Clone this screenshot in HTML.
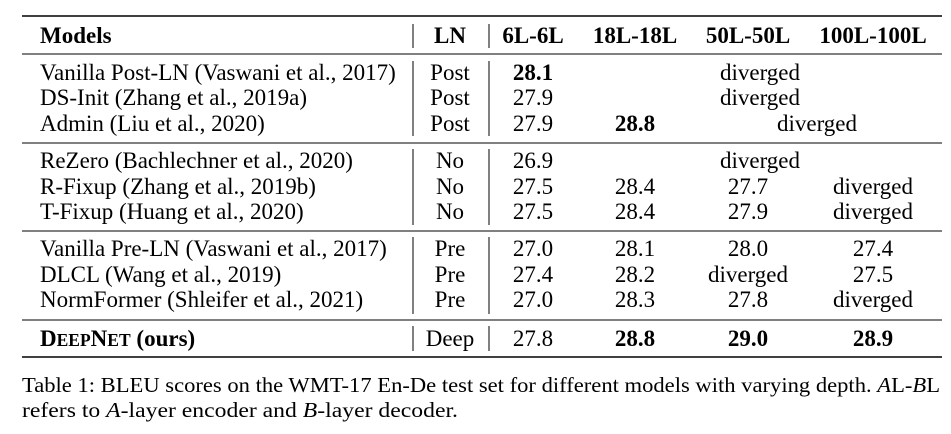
<!DOCTYPE html>
<html><head><meta charset="utf-8"><style>
html,body{margin:0;padding:0;background:#fff;}
svg{display:block;font-family:"Liberation Serif",serif;}
</style></head><body>
<svg width="951" height="434" viewBox="0 0 951 434" xmlns="http://www.w3.org/2000/svg">
<g stroke="#000">
<line x1="22" y1="16" x2="942" y2="16" stroke-width="1.6"/>
<line x1="22" y1="54" x2="942" y2="54" stroke-width="1"/>
<line x1="22" y1="143" x2="942" y2="143" stroke-width="1"/>
<line x1="22" y1="231" x2="942" y2="231" stroke-width="1"/>
<line x1="22" y1="320" x2="942" y2="320" stroke-width="1"/>
<line x1="22" y1="357" x2="942" y2="357" stroke-width="1.6"/>
<g stroke-width="1">
<line x1="413" y1="24" x2="413" y2="48"/><line x1="489" y1="24" x2="489" y2="48"/>
<line x1="413" y1="61" x2="413" y2="136"/><line x1="489" y1="61" x2="489" y2="136"/>
<line x1="413" y1="149" x2="413" y2="225"/><line x1="489" y1="149" x2="489" y2="225"/>
<line x1="413" y1="237" x2="413" y2="314"/><line x1="489" y1="237" x2="489" y2="314"/>
<line x1="413" y1="326" x2="413" y2="351"/><line x1="489" y1="326" x2="489" y2="351"/>
</g>
</g>
<g font-size="23" fill="#000">
<g font-weight="bold">
<text x="40" y="43">Models</text>
<text x="450" y="43" text-anchor="middle">LN</text>
<text x="533" y="43" text-anchor="middle">6L-6L</text>
<text x="635" y="43" text-anchor="middle">18L-18L</text>
<text x="748" y="43" text-anchor="middle">50L-50L</text>
<text x="873" y="43" text-anchor="middle">100L-100L</text>
</g>
<g>
<text x="40" y="80">Vanilla Post-LN (Vaswani et al., 2017)</text>
<text x="450" y="80" text-anchor="middle">Post</text>
<text x="533" y="80" text-anchor="middle" font-weight="bold">28.1</text>
<text x="760" y="80" text-anchor="middle">diverged</text>
<text x="40" y="105">DS-Init (Zhang et al., 2019a)</text>
<text x="450" y="105" text-anchor="middle">Post</text>
<text x="533" y="105" text-anchor="middle">27.9</text>
<text x="760" y="105" text-anchor="middle">diverged</text>
<text x="40" y="131">Admin (Liu et al., 2020)</text>
<text x="450" y="131" text-anchor="middle">Post</text>
<text x="533" y="131" text-anchor="middle">27.9</text>
<text x="635" y="131" text-anchor="middle" font-weight="bold">28.8</text>
<text x="817" y="131" text-anchor="middle">diverged</text>
</g>
<g>
<text x="40" y="168">ReZero (Bachlechner et al., 2020)</text>
<text x="450" y="168" text-anchor="middle">No</text>
<text x="533" y="168" text-anchor="middle">26.9</text>
<text x="760" y="168" text-anchor="middle">diverged</text>
<text x="40" y="194">R-Fixup (Zhang et al., 2019b)</text>
<text x="450" y="194" text-anchor="middle">No</text>
<text x="533" y="194" text-anchor="middle">27.5</text>
<text x="635" y="194" text-anchor="middle">28.4</text>
<text x="748" y="194" text-anchor="middle">27.7</text>
<text x="873" y="194" text-anchor="middle">diverged</text>
<text x="40" y="219">T-Fixup (Huang et al., 2020)</text>
<text x="450" y="219" text-anchor="middle">No</text>
<text x="533" y="219" text-anchor="middle">27.5</text>
<text x="635" y="219" text-anchor="middle">28.4</text>
<text x="748" y="219" text-anchor="middle">27.9</text>
<text x="873" y="219" text-anchor="middle">diverged</text>
</g>
<g>
<text x="40" y="256">Vanilla Pre-LN (Vaswani et al., 2017)</text>
<text x="450" y="256" text-anchor="middle">Pre</text>
<text x="533" y="256" text-anchor="middle">27.0</text>
<text x="635" y="256" text-anchor="middle">28.1</text>
<text x="748" y="256" text-anchor="middle">28.0</text>
<text x="873" y="256" text-anchor="middle">27.4</text>
<text x="40" y="282">DLCL (Wang et al., 2019)</text>
<text x="450" y="282" text-anchor="middle">Pre</text>
<text x="533" y="282" text-anchor="middle">27.4</text>
<text x="635" y="282" text-anchor="middle">28.2</text>
<text x="748" y="282" text-anchor="middle">diverged</text>
<text x="873" y="282" text-anchor="middle">27.5</text>
<text x="40" y="307">NormFormer (Shleifer et al., 2021)</text>
<text x="450" y="307" text-anchor="middle">Pre</text>
<text x="533" y="307" text-anchor="middle">27.0</text>
<text x="635" y="307" text-anchor="middle">28.3</text>
<text x="748" y="307" text-anchor="middle">27.8</text>
<text x="873" y="307" text-anchor="middle">diverged</text>
</g>
<g>
<text x="40" y="346" font-weight="bold">D<tspan font-size="17.5">EEP</tspan>N<tspan font-size="17.5">ET</tspan> (ours)</text>
<text x="450" y="346" text-anchor="middle">Deep</text>
<text x="533" y="346" text-anchor="middle">27.8</text>
<text x="635" y="346" text-anchor="middle" font-weight="bold">28.8</text>
<text x="748" y="346" text-anchor="middle" font-weight="bold">29.0</text>
<text x="873" y="346" text-anchor="middle" font-weight="bold">28.9</text>
</g>
</g>
<g font-size="21" fill="#000">
<text x="22" y="392" textLength="918" lengthAdjust="spacingAndGlyphs">Table 1: BLEU scores on the WMT-17 En-De test set for different models with varying depth. <tspan font-style="italic">A</tspan>L-<tspan font-style="italic">B</tspan>L</text>
<text x="22" y="417" textLength="436" lengthAdjust="spacingAndGlyphs">refers to <tspan font-style="italic">A</tspan>-layer encoder and <tspan font-style="italic">B</tspan>-layer decoder.</text>
</g>
</svg>
</body></html>
